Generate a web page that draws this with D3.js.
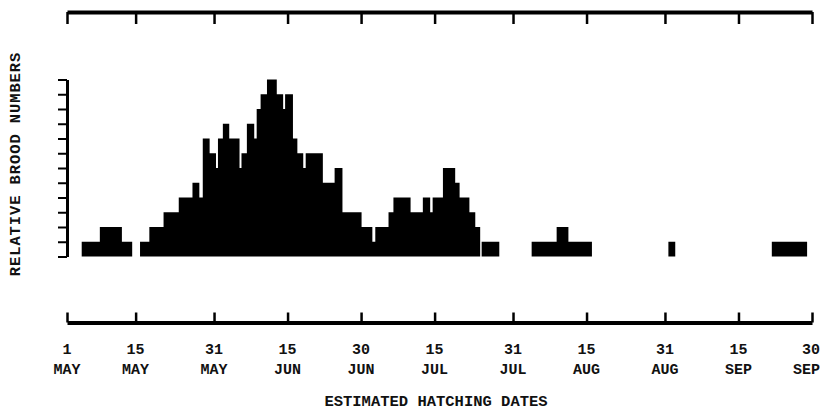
<!DOCTYPE html>
<html>
<head>
<meta charset="utf-8">
<script src="https://cdn.jsdelivr.net/npm/d3@7/dist/d3.min.js"></script>
<style>
  html, body { margin: 0; padding: 0; background: #fff; }
  svg { display: block; }
  text { font-family: "Liberation Mono", "Courier New", monospace; font-weight: bold; fill: #111; }
</style>
</head>
<body>
<svg id="chart" width="822" height="410"></svg>
<script>
// Bin edges in days after 1 May, and relative brood number for each bin (edges[i]..edges[i+1])
const binEdges = [3.0, 6.7, 11.2, 13.3, 14.9, 16.8, 19.7, 22.8, 25.6, 27.0, 27.7, 29.1, 30.4, 30.8, 31.8,
  33.1, 35.2, 35.6, 36.7, 38.2, 38.7, 39.5, 40.8, 42.8, 44.1, 44.5, 46.1, 47.0, 48.2, 48.7, 52.2, 54.6,
  56.2, 60.1, 62.3, 62.9, 65.6, 66.6, 70.1, 72.6, 74.1, 74.6, 76.7, 79.2, 80.1, 82.1, 83.3, 84.3, 84.6,
  88.2, 94.8, 99.9, 102.3, 107.1, 122.7, 124.1, 143.8, 151.0];
const broodNumbers = [1, 2, 1, 0, 1, 2, 3, 4, 5, 4, 8, 7, 6, 8, 9,
  8, 6, 7, 9, 8, 10, 11, 12, 11, 10, 11, 8, 7, 6, 7, 5, 6,
  3, 2, 1, 2, 3, 4, 3, 4, 3, 4, 6, 5, 4, 3, 2, 0, 1,
  0, 1, 2, 1, 0, 1, 0, 1];
// Date ticks (days after 1 May) and their labels
const tickDays = [0, 14, 30, 45, 60, 75, 91, 106, 122, 137, 152];
const tickDayLabels = ["1", "15", "31", "15", "30", "15", "31", "15", "31", "15", "30"];
const tickMonthLabels = ["MAY", "MAY", "MAY", "JUN", "JUN", "JUL", "JUL", "AUG", "AUG", "SEP", "SEP"];
const yTicks = d3.range(0, 13);
const xTitle = "ESTIMATED HATCHING DATES";
const yTitle = "RELATIVE BROOD NUMBERS";

const svg = d3.select("#chart");
const x = d3.scaleLinear().domain([0, 152]).range([67, 812]);
const y = d3.scaleLinear().domain([0, 12]).range([256.5, 79.5]);

// Step outline: one point per bin edge, last value repeated to close the final bin
const pts = binEdges.map((e, i) => ({ d: e, v: i < broodNumbers.length ? broodNumbers[i] : 0 }));
const area = d3.area()
  .x(p => x(p.d))
  .y0(y(0))
  .y1(p => y(p.v))
  .curve(d3.curveStepAfter);
svg.append("path").datum(pts).attr("d", area).attr("fill", "#000");

// Top axis
const topAxis = svg.append("g").attr("transform", "translate(0,12)")
  .call(d3.axisBottom(x).tickValues(tickDays).tickSize(12).tickSizeOuter(0).tickFormat(""));
topAxis.select(".domain").attr("stroke", "#000").attr("stroke-width", 4);
topAxis.selectAll(".tick line").attr("stroke", "#000").attr("stroke-width", 2.5);

// Bottom axis
const botAxis = svg.append("g").attr("transform", "translate(0,322.5)")
  .call(d3.axisTop(x).tickValues(tickDays).tickSize(10).tickSizeOuter(0).tickFormat(""));
botAxis.select(".domain").attr("stroke", "#000").attr("stroke-width", 4);
botAxis.selectAll(".tick line").attr("stroke", "#000").attr("stroke-width", 2.5);

const last = tickDays.length - 1;
const labels = svg.append("g").selectAll("g").data(tickDays).join("g")
  .attr("transform", (d, i) => i === last ? "translate(820,0)" : `translate(${x(d)},0)`);
labels.append("text").attr("y", 354).attr("font-size", 15)
  .attr("text-anchor", (d, i) => i === last ? "end" : "middle")
  .text((d, i) => tickDayLabels[i]);
labels.append("text").attr("y", 374).attr("font-size", 15)
  .attr("text-anchor", (d, i) => i === last ? "end" : "middle")
  .text((d, i) => tickMonthLabels[i]);

svg.append("text").attr("x", 436).attr("y", 406).attr("text-anchor", "middle")
  .attr("font-size", 15.5).text(xTitle);

// Y axis
const yAxis = svg.append("g").attr("transform", "translate(67,0)")
  .call(d3.axisLeft(y).tickValues(yTicks).tickSize(9).tickSizeOuter(0).tickFormat(""));
yAxis.select(".domain").attr("stroke", "#000").attr("stroke-width", 3);
yAxis.selectAll(".tick line").attr("stroke", "#000").attr("stroke-width", 2);

svg.append("text").attr("transform", "translate(15,164) rotate(-90)")
  .attr("text-anchor", "middle").attr("dy", "0.35em").attr("font-size", 15.5)
  .attr("letter-spacing", "0.9").text(yTitle);
</script>
</body>
</html>
